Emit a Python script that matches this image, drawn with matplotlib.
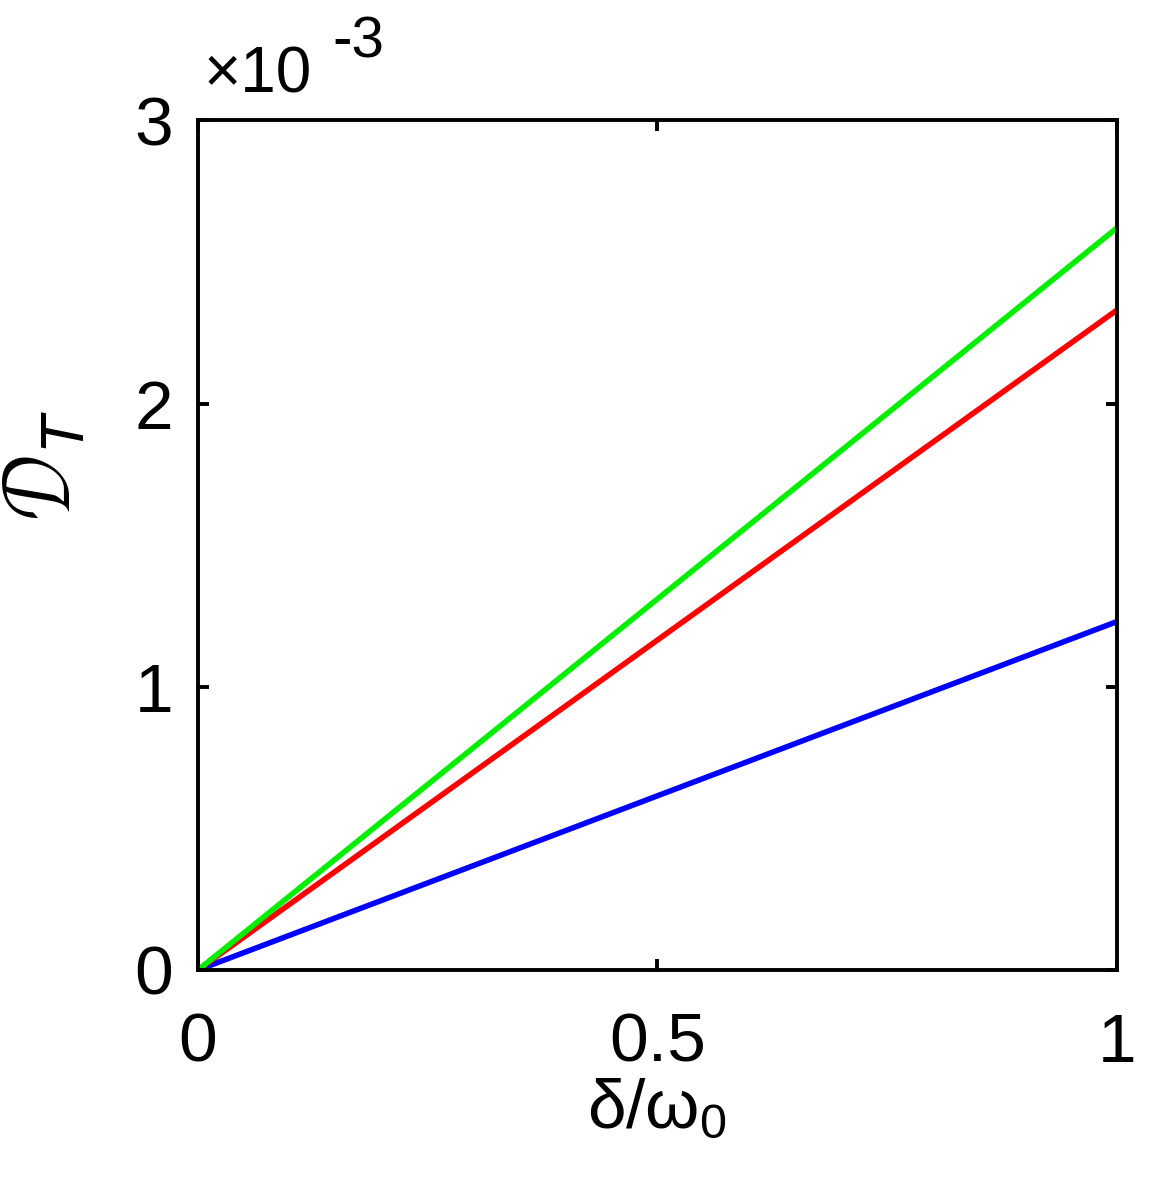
import matplotlib.pyplot as plt

plt.rcParams['font.family'] = ['Liberation Sans', 'DejaVu Sans']
plt.rcParams['mathtext.fontset'] = 'custom'
plt.rcParams['mathtext.rm'] = 'Liberation Sans'
plt.rcParams['mathtext.it'] = 'Liberation Sans:italic'

# delta / omega_0 range, and D_T values in units of 1e-3
x = [0.0, 1.0]
green_vals = [0.0, 2.62]
red_vals = [0.0, 2.33]
blue_vals = [0.0, 1.23]

fig = plt.figure(figsize=(11.72, 12.03), dpi=100)
ax = fig.add_axes([0.169, 0.1937, 0.784, 0.7063])

ax.plot(x, blue_vals, color='#0000ff', lw=4)
ax.plot(x, red_vals, color='#ff0000', lw=4)
ax.plot(x, green_vals, color='#00ee00', lw=4)

ax.set_xlim(0, 1)
ax.set_ylim(0, 3)
ax.set_xticks([0, 0.5, 1])
ax.set_xticklabels(['0', '0.5', '1'])
ax.set_yticks([0, 1, 2, 3])
ax.set_yticklabels(['0', '1', '2', '3'])

for s in ax.spines.values():
    s.set_linewidth(2.8)
ax.tick_params(direction='in', length=8, width=2.8, labelsize=50,
               top=True, right=True)
ax.tick_params(axis='x', pad=30)
ax.tick_params(axis='y', pad=18)

ax.set_xlabel('δ/ω$_0$', fontsize=50, labelpad=2)
ax.set_ylabel(r'$\mathcal{D}_{T}$', fontsize=64)
ax.yaxis.set_label_coords(-0.118, 0.595)

# exponent label
fig.text(0.174, 0.912, '×10', fontsize=46, ha='left', va='bottom')
fig.text(0.284, 0.942, '-3', fontsize=42, ha='left', va='bottom')

plt.savefig('out.png', dpi=100)
